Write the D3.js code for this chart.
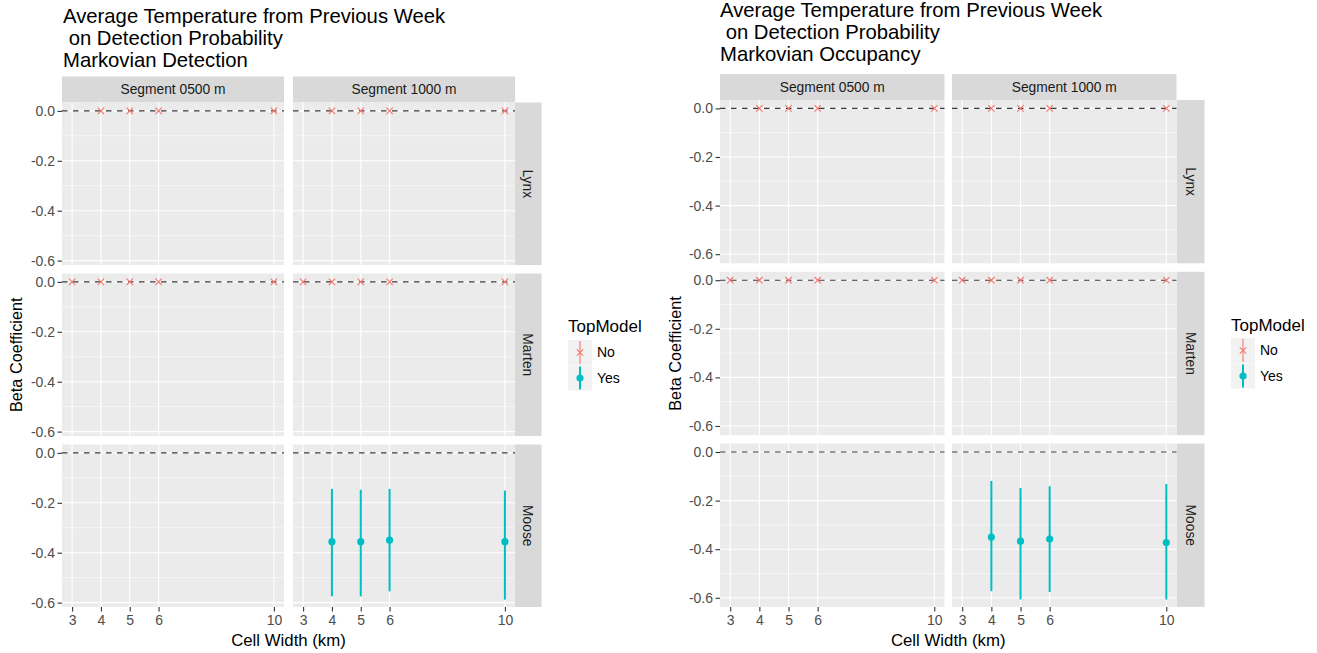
<!DOCTYPE html>
<html>
<head>
<meta charset="utf-8">
<title>Beta Coefficient by Cell Width</title>
<script src="https://cdn.jsdelivr.net/npm/d3@7"></script>
<style>
  body { margin: 0; background: #fff; }
  svg { display: block; font-family: "Liberation Sans", Arial, sans-serif; }
</style>
</head>
<body>
<svg id="chart" width="1317" height="653"></svg>
<script>
// ---- data ----
const segments = ["0500", "1000"];
const species = ["Lynx", "Marten", "Moose"];
const cellWidths = [3, 4, 5, 6, 10];
const yTicks = [0, -0.2, -0.4, -0.6];
const yMinorTicks = [-0.1, -0.3, -0.5];
const topModels = ["No", "Yes"];

const detectionTitle = ["Average Temperature from Previous Week", " on Detection Probability", "Markovian Detection"];
const occupancyTitle = ["Average Temperature from Previous Week", " on Detection Probability", "Markovian Occupancy"];

// [species, segment, cell width, beta, lower, upper, top model]
const detectionRows = [
  ["Lynx", "0500", 4, 0, -0.004, 0.004, "No"],
  ["Lynx", "0500", 5, 0, -0.004, 0.004, "No"],
  ["Lynx", "0500", 6, 0, -0.004, 0.004, "No"],
  ["Lynx", "0500", 10, 0, -0.004, 0.004, "No"],
  ["Lynx", "1000", 4, 0, -0.004, 0.004, "No"],
  ["Lynx", "1000", 5, 0, -0.004, 0.004, "No"],
  ["Lynx", "1000", 6, 0, -0.004, 0.004, "No"],
  ["Lynx", "1000", 10, 0, -0.004, 0.004, "No"],
  ["Marten", "0500", 3, 0, -0.004, 0.004, "No"],
  ["Marten", "0500", 4, 0, -0.004, 0.004, "No"],
  ["Marten", "0500", 5, 0, -0.004, 0.004, "No"],
  ["Marten", "0500", 6, 0, -0.004, 0.004, "No"],
  ["Marten", "0500", 10, 0, -0.004, 0.004, "No"],
  ["Marten", "1000", 3, 0, -0.004, 0.004, "No"],
  ["Marten", "1000", 4, 0, -0.004, 0.004, "No"],
  ["Marten", "1000", 5, 0, -0.004, 0.004, "No"],
  ["Marten", "1000", 6, 0, -0.004, 0.004, "No"],
  ["Marten", "1000", 10, 0, -0.004, 0.004, "No"],
  ["Moose", "1000", 4, -0.356, -0.575, -0.144, "Yes"],
  ["Moose", "1000", 5, -0.356, -0.575, -0.148, "Yes"],
  ["Moose", "1000", 6, -0.350, -0.555, -0.144, "Yes"],
  ["Moose", "1000", 10, -0.356, -0.588, -0.151, "Yes"]
];

const occupancyRows = [
  ["Lynx", "0500", 4, 0, -0.004, 0.004, "No"],
  ["Lynx", "0500", 5, 0, -0.004, 0.004, "No"],
  ["Lynx", "0500", 6, 0, -0.004, 0.004, "No"],
  ["Lynx", "0500", 10, 0, -0.004, 0.004, "No"],
  ["Lynx", "1000", 4, 0, -0.004, 0.004, "No"],
  ["Lynx", "1000", 5, 0, -0.004, 0.004, "No"],
  ["Lynx", "1000", 6, 0, -0.004, 0.004, "No"],
  ["Lynx", "1000", 10, 0, -0.004, 0.004, "No"],
  ["Marten", "0500", 3, 0, -0.004, 0.004, "No"],
  ["Marten", "0500", 4, 0, -0.004, 0.004, "No"],
  ["Marten", "0500", 5, 0, -0.004, 0.004, "No"],
  ["Marten", "0500", 6, 0, -0.004, 0.004, "No"],
  ["Marten", "0500", 10, 0, -0.004, 0.004, "No"],
  ["Marten", "1000", 3, 0, -0.004, 0.004, "No"],
  ["Marten", "1000", 4, 0, -0.004, 0.004, "No"],
  ["Marten", "1000", 5, 0, -0.004, 0.004, "No"],
  ["Marten", "1000", 6, 0, -0.004, 0.004, "No"],
  ["Marten", "1000", 10, 0, -0.004, 0.004, "No"],
  ["Moose", "1000", 4, -0.350, -0.573, -0.119, "Yes"],
  ["Moose", "1000", 5, -0.367, -0.607, -0.148, "Yes"],
  ["Moose", "1000", 6, -0.358, -0.576, -0.141, "Yes"],
  ["Moose", "1000", 10, -0.373, -0.607, -0.132, "Yes"]
];

// ---- layout (pixels) ----
const layouts = [
  { title: detectionTitle, rows: detectionRows, titleX: 63, titleY: 23,
    colX: [62, 293], panelW: 222, stripW: 26.5, stripTop: 76.5, stripH: 26,
    panelTop: 102.5, panelH: 162.5, vGap: 8.5, yLabelX: 22,
    legendX: 568, legendY: 331.5, keyTop: 340 },
  { title: occupancyTitle, rows: occupancyRows, titleX: 720, titleY: 17,
    colX: [720, 952], panelW: 224.5, stripW: 28, stripTop: 74, stripH: 26,
    panelTop: 100, panelH: 163.3, vGap: 8.5, yLabelX: 681,
    legendX: 1231, legendY: 331, keyTop: 338 }
];

const colour = d3.scaleOrdinal().domain(topModels).range(["#F8766D", "#00BFC4"]);
const svg = d3.select("#chart");

function drawCross(sel, size) {
  sel.append("path")
    .attr("d", `M${-size},${-size}L${size},${size}M${-size},${size}L${size},${-size}`)
    .attr("stroke", colour("No"))
    .attr("stroke-width", 1.1)
    .attr("fill", "none");
}

function drawFacet(L) {
  const g = svg.append("g");
  const rows = L.rows.map(r => ({ species: r[0], segment: r[1], x: r[2], beta: r[3], lo: r[4], hi: r[5], top: r[6] }));

  // title
  g.append("text")
    .attr("x", L.titleX).attr("y", L.titleY)
    .attr("font-size", 20.3).attr("fill", "#000")
    .style("white-space", "pre")
    .selectAll("tspan").data(L.title).join("tspan")
    .attr("x", L.titleX)
    .attr("dy", (d, i) => i === 0 ? 0 : 22)
    .text(d => d);

  // shared scales (facet_grid, fixed)
  const xr = d3.extent(cellWidths), xpad = (xr[1] - xr[0]) * 0.05;
  const ylo = d3.min(rows, d => d.lo), yhi = d3.max(rows, d => d.hi), ypad = (yhi - ylo) * 0.05;

  const xScales = segments.map((s, c) =>
    d3.scaleLinear().domain([xr[0] - xpad, xr[1] + xpad]).range([L.colX[c], L.colX[c] + L.panelW]));
  const rowTop = i => L.panelTop + i * (L.panelH + L.vGap);
  const yScales = species.map((s, i) =>
    d3.scaleLinear().domain([ylo - ypad, yhi + ypad]).range([rowTop(i) + L.panelH, rowTop(i)]));

  const rightEdge = L.colX[1] + L.panelW;

  // column strips
  segments.forEach((s, c) => {
    g.append("rect")
      .attr("x", L.colX[c]).attr("y", L.stripTop)
      .attr("width", L.panelW).attr("height", L.stripH)
      .attr("fill", "#d9d9d9");
    g.append("text")
      .attr("x", L.colX[c] + L.panelW / 2).attr("y", L.stripTop + L.stripH / 2 + 4.8)
      .attr("text-anchor", "middle").attr("font-size", 13.8).attr("fill", "#1a1a1a")
      .text("Segment " + s + " m");
  });

  species.forEach((sp, i) => {
    const y = yScales[i];
    const top = rowTop(i);

    // row strip
    g.append("rect")
      .attr("x", rightEdge).attr("y", top)
      .attr("width", L.stripW).attr("height", L.panelH)
      .attr("fill", "#d9d9d9");
    g.append("text")
      .attr("transform", `translate(${rightEdge + L.stripW / 2 - 4.8},${top + L.panelH / 2}) rotate(90)`)
      .attr("text-anchor", "middle").attr("font-size", 13.8).attr("fill", "#1a1a1a")
      .text(sp);

    segments.forEach((seg, c) => {
      const x = xScales[c];
      const p = g.append("g");
      p.append("rect")
        .attr("x", L.colX[c]).attr("y", top)
        .attr("width", L.panelW).attr("height", L.panelH)
        .attr("fill", "#ebebeb");

      // grid
      p.selectAll(".minor").data(yMinorTicks).join("line")
        .attr("x1", L.colX[c]).attr("x2", L.colX[c] + L.panelW)
        .attr("y1", d => y(d)).attr("y2", d => y(d))
        .attr("stroke", "#fff").attr("stroke-width", 0.55);
      p.selectAll(".majorY").data(yTicks).join("line")
        .attr("x1", L.colX[c]).attr("x2", L.colX[c] + L.panelW)
        .attr("y1", d => y(d)).attr("y2", d => y(d))
        .attr("stroke", "#fff").attr("stroke-width", 1.1);
      p.selectAll(".majorX").data(cellWidths).join("line")
        .attr("x1", d => x(d)).attr("x2", d => x(d))
        .attr("y1", top).attr("y2", top + L.panelH)
        .attr("stroke", "#fff").attr("stroke-width", 1.1);

      // reference line at zero
      p.append("line")
        .attr("x1", L.colX[c]).attr("x2", L.colX[c] + L.panelW)
        .attr("y1", y(0)).attr("y2", y(0))
        .attr("stroke", "#3a3a3a").attr("stroke-width", 1.1)
        .attr("stroke-dasharray", "5.5,5.5");

      // point ranges
      const pts = rows.filter(d => d.species === sp && d.segment === seg);
      p.selectAll(".range").data(pts).join("line")
        .attr("x1", d => x(d.x)).attr("x2", d => x(d.x))
        .attr("y1", d => y(d.lo)).attr("y2", d => y(d.hi))
        .attr("stroke", d => colour(d.top))
        .attr("stroke-width", d => d.top === "Yes" ? 2 : 1.1);
      p.selectAll(".dot").data(pts.filter(d => d.top === "Yes")).join("circle")
        .attr("cx", d => x(d.x)).attr("cy", d => y(d.beta)).attr("r", 3.6)
        .attr("fill", colour("Yes"));
      pts.filter(d => d.top === "No").forEach(d => {
        p.append("g").attr("transform", `translate(${x(d.x)},${y(d.beta)})`).call(drawCross, 3.2);
      });

      // y axis on first column
      if (c === 0) {
        g.append("g")
          .attr("transform", `translate(${L.colX[0]},0)`)
          .call(d3.axisLeft(y).tickValues(yTicks).tickFormat(d => d.toFixed(1)).tickSize(4.5).tickPadding(2.5))
          .call(a => a.select(".domain").remove())
          .call(a => a.selectAll("line").attr("stroke", "#333").attr("stroke-width", 1.1))
          .call(a => a.selectAll("text").attr("fill", "#4d4d4d").attr("font-size", 14)
            .attr("font-family", "Liberation Sans, Arial, sans-serif"));
      }
      // x axis on bottom row
      if (i === species.length - 1) {
        g.append("g")
          .attr("transform", `translate(0,${top + L.panelH})`)
          .call(d3.axisBottom(x).tickValues(cellWidths).tickFormat(d3.format("d")).tickSize(4.5).tickPadding(4))
          .call(a => a.select(".domain").remove())
          .call(a => a.selectAll("line").attr("stroke", "#333").attr("stroke-width", 1.1))
          .call(a => a.selectAll("text").attr("fill", "#4d4d4d").attr("font-size", 14)
            .attr("font-family", "Liberation Sans, Arial, sans-serif"));
      }
    });
  });

  // axis titles
  const plotBottom = rowTop(species.length - 1) + L.panelH;
  g.append("text")
    .attr("x", (L.colX[0] + rightEdge) / 2).attr("y", 646)
    .attr("text-anchor", "middle").attr("font-size", 16.8).attr("fill", "#000")
    .text("Cell Width (km)");
  g.append("text")
    .attr("transform", `translate(${L.yLabelX},${(L.panelTop + plotBottom) / 2}) rotate(-90)`)
    .attr("text-anchor", "middle").attr("font-size", 16.3).attr("fill", "#000")
    .text("Beta Coefficient");

  // legend
  const lg = g.append("g");
  lg.append("text")
    .attr("x", L.legendX).attr("y", L.legendY)
    .attr("font-size", 17).attr("fill", "#000")
    .text("TopModel");
  topModels.forEach((m, k) => {
    const ky = L.keyTop + k * 25.5;
    const cx = L.legendX + 12, cy = ky + 12.5;
    lg.append("rect")
      .attr("x", L.legendX).attr("y", ky)
      .attr("width", 24).attr("height", 25)
      .attr("fill", "#f2f2f2");
    lg.append("line")
      .attr("x1", cx).attr("x2", cx).attr("y1", ky + 1).attr("y2", ky + 24)
      .attr("stroke", colour(m)).attr("stroke-width", m === "Yes" ? 2 : 1.1);
    if (m === "Yes") {
      lg.append("circle").attr("cx", cx).attr("cy", cy).attr("r", 3.6).attr("fill", colour(m));
    } else {
      lg.append("g").attr("transform", `translate(${cx},${cy})`).call(drawCross, 3.2);
    }
    lg.append("text")
      .attr("x", L.legendX + 29).attr("y", cy + 4.8)
      .attr("font-size", 14).attr("fill", "#000")
      .text(m);
  });
}

layouts.forEach(drawFacet);
</script>
</body>
</html>
